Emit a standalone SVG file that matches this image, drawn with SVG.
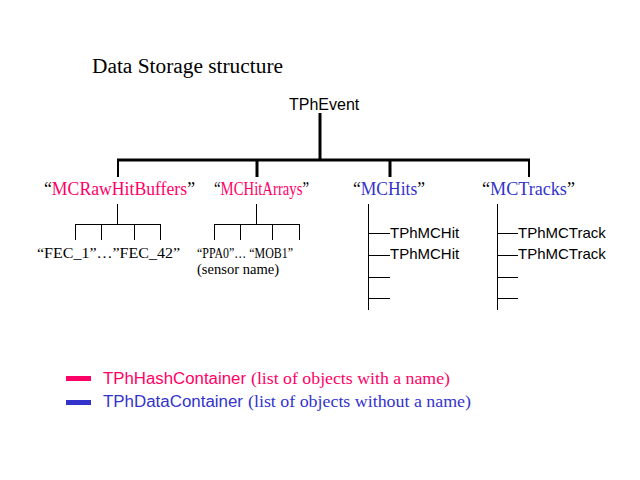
<svg xmlns="http://www.w3.org/2000/svg" width="640" height="480" viewBox="0 0 640 480">
<style>
.s{font-family:"Liberation Serif",serif}
.a{font-family:"Liberation Sans",Arial,sans-serif}
.p{fill:#ff0066}.b{fill:#3333cc}
line{stroke:#000;stroke-width:1}
.t{stroke-width:3}
</style>
<rect width="640" height="480" fill="#fff"/>
<text class="s" x="92" y="73" font-size="20" textLength="191" lengthAdjust="spacingAndGlyphs">Data Storage structure</text>
<g id="connectors">
<line class="t" x1="320" y1="113" x2="320" y2="160"/>
<line class="t" x1="117" y1="160" x2="530" y2="160"/>
<line x1="118" y1="160" x2="118" y2="177" style="stroke-width:2"/>
<line class="t" x1="257" y1="160" x2="257" y2="177"/>
<line class="t" x1="390" y1="160" x2="390" y2="177"/>
<line x1="529" y1="160" x2="529" y2="177" style="stroke-width:2"/>
<line x1="117.5" y1="204" x2="117.5" y2="224"/>
<line x1="75" y1="224.5" x2="161" y2="224.5"/>
<line x1="75.5" y1="224" x2="75.5" y2="240"/><line x1="101.5" y1="224" x2="101.5" y2="240"/><line x1="134.5" y1="224" x2="134.5" y2="240"/><line x1="160.5" y1="224" x2="160.5" y2="240"/>
<line x1="256.5" y1="204" x2="256.5" y2="224"/>
<line x1="214" y1="224.5" x2="300" y2="224.5"/>
<line x1="214.5" y1="224" x2="214.5" y2="240"/><line x1="240.5" y1="224" x2="240.5" y2="240"/><line x1="272.5" y1="224" x2="272.5" y2="240"/><line x1="299.5" y1="224" x2="299.5" y2="240"/>
<line x1="368.5" y1="204" x2="368.5" y2="310"/>
<line x1="368" y1="233.5" x2="390" y2="233.5"/><line x1="368" y1="255.5" x2="390" y2="255.5"/><line x1="368" y1="277.5" x2="390" y2="277.5"/><line x1="368" y1="298.5" x2="390" y2="298.5"/>
<line x1="497.5" y1="204" x2="497.5" y2="310"/>
<line x1="497" y1="233.5" x2="518" y2="233.5"/><line x1="497" y1="255.5" x2="518" y2="255.5"/><line x1="497" y1="277.5" x2="518" y2="277.5"/><line x1="497" y1="298.5" x2="518" y2="298.5"/>
</g>
<g id="TPhEvent"><text class="a" x="289" y="110" font-size="16">TPhEvent</text></g>
<g id="MCRawHitBuffers"><text class="s" x="44" y="195" font-size="18" textLength="151" lengthAdjust="spacingAndGlyphs">“<tspan class="p">MCRawHitBuffers</tspan>”</text></g>
<g id="MCHitArrays"><text class="s" x="214" y="195" font-size="18" textLength="95" lengthAdjust="spacingAndGlyphs">“<tspan class="p">MCHitArrays</tspan>”</text></g>
<g id="MCHits"><text class="s" x="353" y="195" font-size="18" textLength="72" lengthAdjust="spacingAndGlyphs">“<tspan class="b">MCHits</tspan>”</text></g>
<g id="MCTracks"><text class="s" x="482" y="195" font-size="18" textLength="93" lengthAdjust="spacingAndGlyphs">“<tspan class="b">MCTracks</tspan>”</text></g>
<g id="FEC"><text class="s" x="37" y="258" font-size="15" textLength="143" lengthAdjust="spacingAndGlyphs">“FEC_1”…”FEC_42”</text></g>
<g id="PPA"><text class="s" x="197" y="258" font-size="15" textLength="96" lengthAdjust="spacingAndGlyphs">“PPA0”… “MOB1”</text><text class="s" x="197" y="274" font-size="15" textLength="82" lengthAdjust="spacingAndGlyphs">(sensor name)</text></g>
<g id="hits"><text class="a" x="390" y="238" font-size="15">TPhMCHit</text><text class="a" x="390" y="259" font-size="15">TPhMCHit</text></g>
<g id="tracks"><text class="a" x="518" y="238" font-size="15">TPhMCTrack</text><text class="a" x="518" y="259" font-size="15">TPhMCTrack</text></g>
<g id="legend">
<rect x="66" y="376" width="25" height="5" fill="#ff0066"/>
<rect x="66" y="400" width="25" height="5" fill="#3333cc"/>
<text x="103" y="384" font-size="16" class="p a" textLength="143" lengthAdjust="spacingAndGlyphs">TPhHashContainer</text>
<text x="251" y="384" font-size="16" class="p s" textLength="199" lengthAdjust="spacingAndGlyphs">(list of objects with a name)</text>
<text x="103" y="407" font-size="16" class="b a" textLength="140" lengthAdjust="spacingAndGlyphs">TPhDataContainer</text>
<text x="248" y="407" font-size="16" class="b s" textLength="223" lengthAdjust="spacingAndGlyphs">(list of objects without a name)</text>
</g>
</svg>
